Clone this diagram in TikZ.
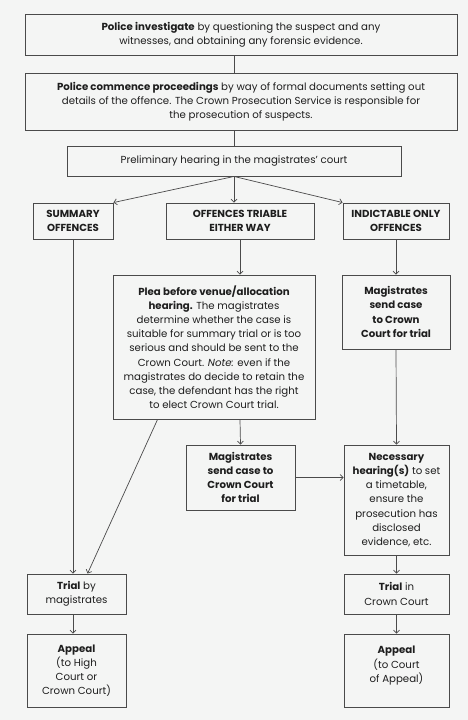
\documentclass[tikz,border=0pt]{standalone}
\usepackage{fontspec}
\setmainfont{Poppins}
\usetikzlibrary{arrows.meta,calc}
\definecolor{bg}{HTML}{F4F5F4}
\definecolor{ln}{HTML}{4A4A4A}
\definecolor{tx}{HTML}{1E1E1E}
\begin{document}
\begin{tikzpicture}[x=1pt,y=-1pt,
  box/.style={draw=ln,line width=0.9pt,align=center,inner sep=0pt,text=tx,font=\fontsize{10.2}{14.2}\selectfont},
  conn/.style={draw=ln,line width=0.7pt},
  arr/.style={conn,-{Straight Barb[length=3pt,width=6pt]}}]
\fill[bg] (0,0) rectangle (468,720);
\useasboundingbox (0,0) rectangle (468,720);
\node[box,minimum width=432pt,minimum height=41pt] (n1) at (241,34.5) {\textbf{Police investigate} by questioning the suspect and any\\witnesses, and obtaining any forensic evidence.};
\node[box,minimum width=432pt,minimum height=57pt] (n2) at (241,101.5) {\textbf{Police commence proceedings} by way of formal documents setting out\\details of the offence. The Crown Prosecution Service is responsible for\\the prosecution of suspects.};
\node[box,minimum width=334pt,minimum height=30pt] (n3) at (234,161) {Preliminary hearing in the magistrates’ court};
\node[box,minimum width=80pt,minimum height=36pt] (n4) at (73,221) {\textbf{SUMMARY}\\\textbf{OFFENCES}};
\node[box,minimum width=148pt,minimum height=36pt] (n5) at (240,221) {\textbf{OFFENCES TRIABLE}\\\textbf{EITHER WAY}};
\node[box,minimum width=106pt,minimum height=36pt] (n6) at (396,221) {\textbf{INDICTABLE ONLY}\\\textbf{OFFENCES}};
\node[box,minimum width=202pt,minimum height=144pt] (n7) at (214,347) {\textbf{Plea before venue/allocation}\\\textbf{hearing.} The magistrates\\determine whether the case is\\suitable for summary trial or is too\\serious and should be sent to the\\Crown Court. \textit{Note:} even if the\\magistrates do decide to retain the\\case, the defendant has the right\\to elect Crown Court trial.};
\node[box,minimum width=108pt,minimum height=74pt] (n8) at (396,312) {\textbf{Magistrates}\\\textbf{send case}\\\textbf{to Crown}\\\textbf{Court for trial}};
\node[box,minimum width=109pt,minimum height=65pt] (n9) at (240.5,477.5) {\textbf{Magistrates}\\\textbf{send case to}\\\textbf{Crown Court}\\\textbf{for trial}};
\node[box,minimum width=105pt,minimum height=110pt] (n10) at (396.5,500) {\textbf{Necessary}\\\textbf{hearing(s)} to set\\a timetable,\\ensure the\\prosecution has\\disclosed\\evidence, etc.};
\node[box,minimum width=99pt,minimum height=40pt] (n11) at (76.5,594) {\textbf{Trial} by\\magistrates};
\node[box,minimum width=105pt,minimum height=40pt] (n12) at (396.5,594) {\textbf{Trial} in\\Crown Court};
\node[box,minimum width=99pt,minimum height=73pt] (n13) at (76.5,670.5) {\textbf{Appeal}\\(to High\\Court or\\Crown Court)};
\node[box,minimum width=105pt,minimum height=73pt] (n14) at (396.5,670.5) {\textbf{Appeal}\\(to Court\\of Appeal)\\[-2pt]};
% connectors
\draw[conn] (n1.south -| n3.south) -- (n2.north -| n3.south);
\draw[conn] (n2.south -| n3.south) -- (n3.north);
\draw[arr] (n3.south) -- (n4.north east);
\draw[arr] (n3.south) -- (n5.north -| n3.south);
\draw[arr] (n3.south) -- (n6.north west);
\draw[arr] (n4.south) -- (n11.north -| n4.south);
\draw[arr] (n5.south) -- (n7.north -| n5.south);
\draw[arr] (n6.south) -- (n8.north);
\draw[arr] ($(n7.south west)+(45,0)$) -- ($(n11.north west)+(61,0)$);
\draw[arr] (n7.south -| n5.south) -- (n9.north);
\draw[arr] (n8.south) -- (n10.north);
\draw[arr] (n9.east) -- (n9.east -| n10.west);
\draw[arr] (n10.south) -- (n12.north);
\draw[arr] (n11.south -| n4.south) -- (n13.north -| n4.south);
\draw[arr] (n12.south) -- (n14.north);
\end{tikzpicture}
\end{document}
